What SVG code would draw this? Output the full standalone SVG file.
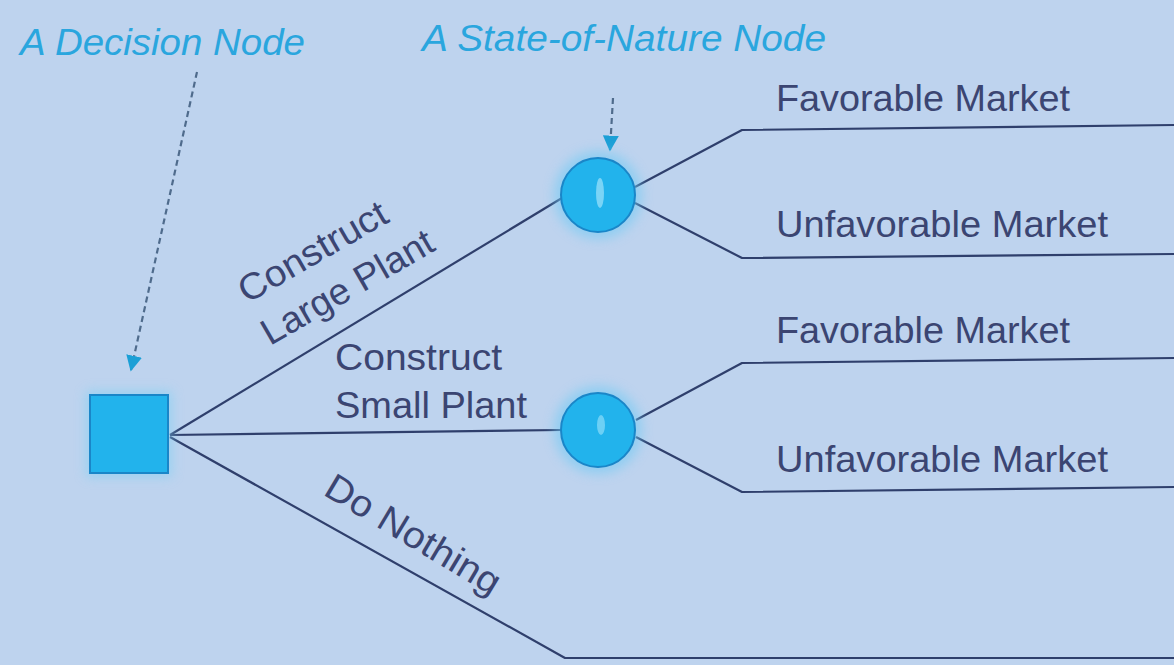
<svg xmlns="http://www.w3.org/2000/svg" width="1174" height="665" viewBox="0 0 1174 665">
<style>
.bg{fill:#bed3ee}
.edge{fill:none;stroke:#2f3f6c;stroke-width:2.2;stroke-linejoin:round}
.lbl{font-family:"Liberation Sans",Arial,sans-serif;font-size:37px;fill:#3b4572}
.cap{font-family:"Liberation Sans",Arial,sans-serif;font-size:37px;font-style:italic;fill:#2aa6de}
.ptr{fill:none;stroke:#4f6b8c;stroke-width:2.2;stroke-dasharray:6 4}
.node{fill:#22b3ec;stroke:#1a86c8;stroke-width:2}
</style>
<defs>
<filter id="glow" x="-50%" y="-50%" width="200%" height="200%">
<feGaussianBlur stdDeviation="6"/>
</filter>
<marker id="ah2" viewBox="0 0 10 10" refX="9" refY="5" markerWidth="16" markerHeight="16" orient="auto" markerUnits="userSpaceOnUse">
<path d="M0,0 L10,5 L0,10 z" fill="#1b9fd6"/>
</marker>
</defs>
<rect class="bg" x="0" y="0" width="1174" height="665"/>

<g id="connectors">
<path class="edge" d="M170,435 L562,198"/>
<path class="edge" d="M170,435 L561,430"/>
<path class="edge" d="M170,437 L565,658 L1174,658"/>
<path class="edge" d="M635,187 L742,130 L1174,125"/>
<path class="edge" d="M635,203 L742,258 L1174,254"/>
<path class="edge" d="M636,420 L742,363 L1174,358"/>
<path class="edge" d="M636,437 L742,492 L1174,487"/>
<path class="ptr" d="M197,72 L131,370" marker-end="url(#ah2)"/>
<path class="ptr" d="M613,98 L610,150" marker-end="url(#ah2)"/>
</g>

<g id="decision-node">
<rect x="86" y="391" width="86" height="86" fill="#7fd0f4" opacity="0.6" filter="url(#glow)"/>
<rect class="node" x="90" y="395" width="78" height="78"/>
</g>

<g id="nature-node-1">
<circle cx="598" cy="195" r="44" fill="#6fcaf4" opacity="0.6" filter="url(#glow)"/>
<circle class="node" cx="598" cy="195" r="37"/>
<ellipse cx="600" cy="193" rx="4" ry="15" fill="#9fe2fb" opacity="0.7"/>
</g>

<g id="nature-node-2">
<circle cx="598" cy="430" r="44" fill="#6fcaf4" opacity="0.6" filter="url(#glow)"/>
<circle class="node" cx="598" cy="430" r="37"/>
<ellipse cx="601" cy="425" rx="4" ry="10" fill="#9fe2fb" opacity="0.6"/>
</g>

<g id="captions">
<text class="cap" x="20" y="55" textLength="285" lengthAdjust="spacingAndGlyphs">A Decision Node</text>
<text class="cap" x="422" y="51" textLength="404" lengthAdjust="spacingAndGlyphs">A State-of-Nature Node</text>
</g>

<g id="branch-labels">
<text class="lbl" transform="translate(247,304) rotate(-30)" textLength="166" lengthAdjust="spacingAndGlyphs">Construct</text>
<text class="lbl" transform="translate(270,346) rotate(-30)" textLength="193" lengthAdjust="spacingAndGlyphs">Large Plant</text>
<text class="lbl" x="335" y="370" textLength="167" lengthAdjust="spacingAndGlyphs">Construct</text>
<text class="lbl" x="335" y="418" textLength="192" lengthAdjust="spacingAndGlyphs">Small Plant</text>
<text class="lbl" transform="translate(322,494) rotate(31)" textLength="198" lengthAdjust="spacingAndGlyphs">Do Nothing</text>
</g>

<g id="outcome-labels">
<text class="lbl" x="776" y="111" textLength="294" lengthAdjust="spacingAndGlyphs">Favorable Market</text>
<text class="lbl" x="776" y="237" textLength="332" lengthAdjust="spacingAndGlyphs">Unfavorable Market</text>
<text class="lbl" x="776" y="343" textLength="294" lengthAdjust="spacingAndGlyphs">Favorable Market</text>
<text class="lbl" x="776" y="472" textLength="332" lengthAdjust="spacingAndGlyphs">Unfavorable Market</text>
</g>
</svg>
